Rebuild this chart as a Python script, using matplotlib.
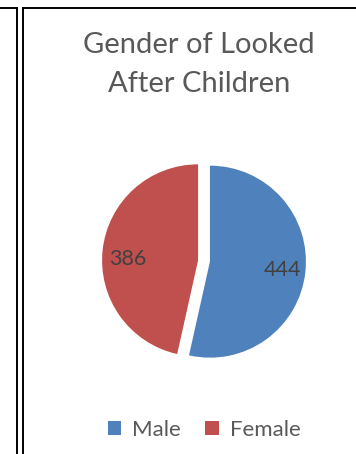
import matplotlib.pyplot as plt
from matplotlib.lines import Line2D

labels = ['Male', 'Female']
values = [444, 386]
colors = ['#4F81BD', '#C0504D']

W, H = 356, 454
plt.rcParams['font.family'] = ['Lato', 'DejaVu Sans']

fig = plt.figure(figsize=(W / 100, H / 100), dpi=100)

# borders (this chart and the edge of the neighbouring one)
def px_line(xs, ys):
    fig.add_artist(Line2D([x / W for x in xs], [1 - y / H for y in ys],
                          transform=fig.transFigure, color='black', lw=1.4))

px_line([0, 16.5], [7.5, 7.5])
px_line([16.5, 16.5], [7.5, H])
px_line([23.5, W], [7.5, 7.5])
px_line([23.5, 23.5], [7.5, H])

# pie: center about (204, 261) px, radius ~96 px
size = 240
ax = fig.add_axes([(204 - size / 2) / W, (H - 261 - size / 2) / H, size / W, size / H])
total = sum(values)
wedges, texts, autotexts = ax.pie(
    values, colors=colors, startangle=90, counterclock=False,
    explode=[0.062, 0.062], autopct=lambda p: f"{round(p * total / 100)}",
    pctdistance=0.76, textprops={'fontsize': 15.5, 'color': '#404040'})
# nudge the Female label down a little, as in the original
x, y = autotexts[1].get_position()
autotexts[1].set_position((x + 0.02, y - 0.07))
ax.set_xlim(-1.25, 1.25)
ax.set_ylim(-1.25, 1.25)
ax.set_aspect('equal')
ax.axis('off')

fig.text(199 / W, 1 - 64.5 / H, 'Gender of Looked\nAfter Children', ha='center', va='center',
         fontsize=21, color='#595959', linespacing=1.6)

fig.legend(wedges, labels, loc='center', bbox_to_anchor=(204 / W, 1 - 430 / H),
           ncol=2, frameon=False, fontsize=16, labelcolor='#595959',
           handlelength=0.6, handleheight=0.6, handletextpad=0.5, columnspacing=1.1)

plt.savefig('out.png', dpi=100)
